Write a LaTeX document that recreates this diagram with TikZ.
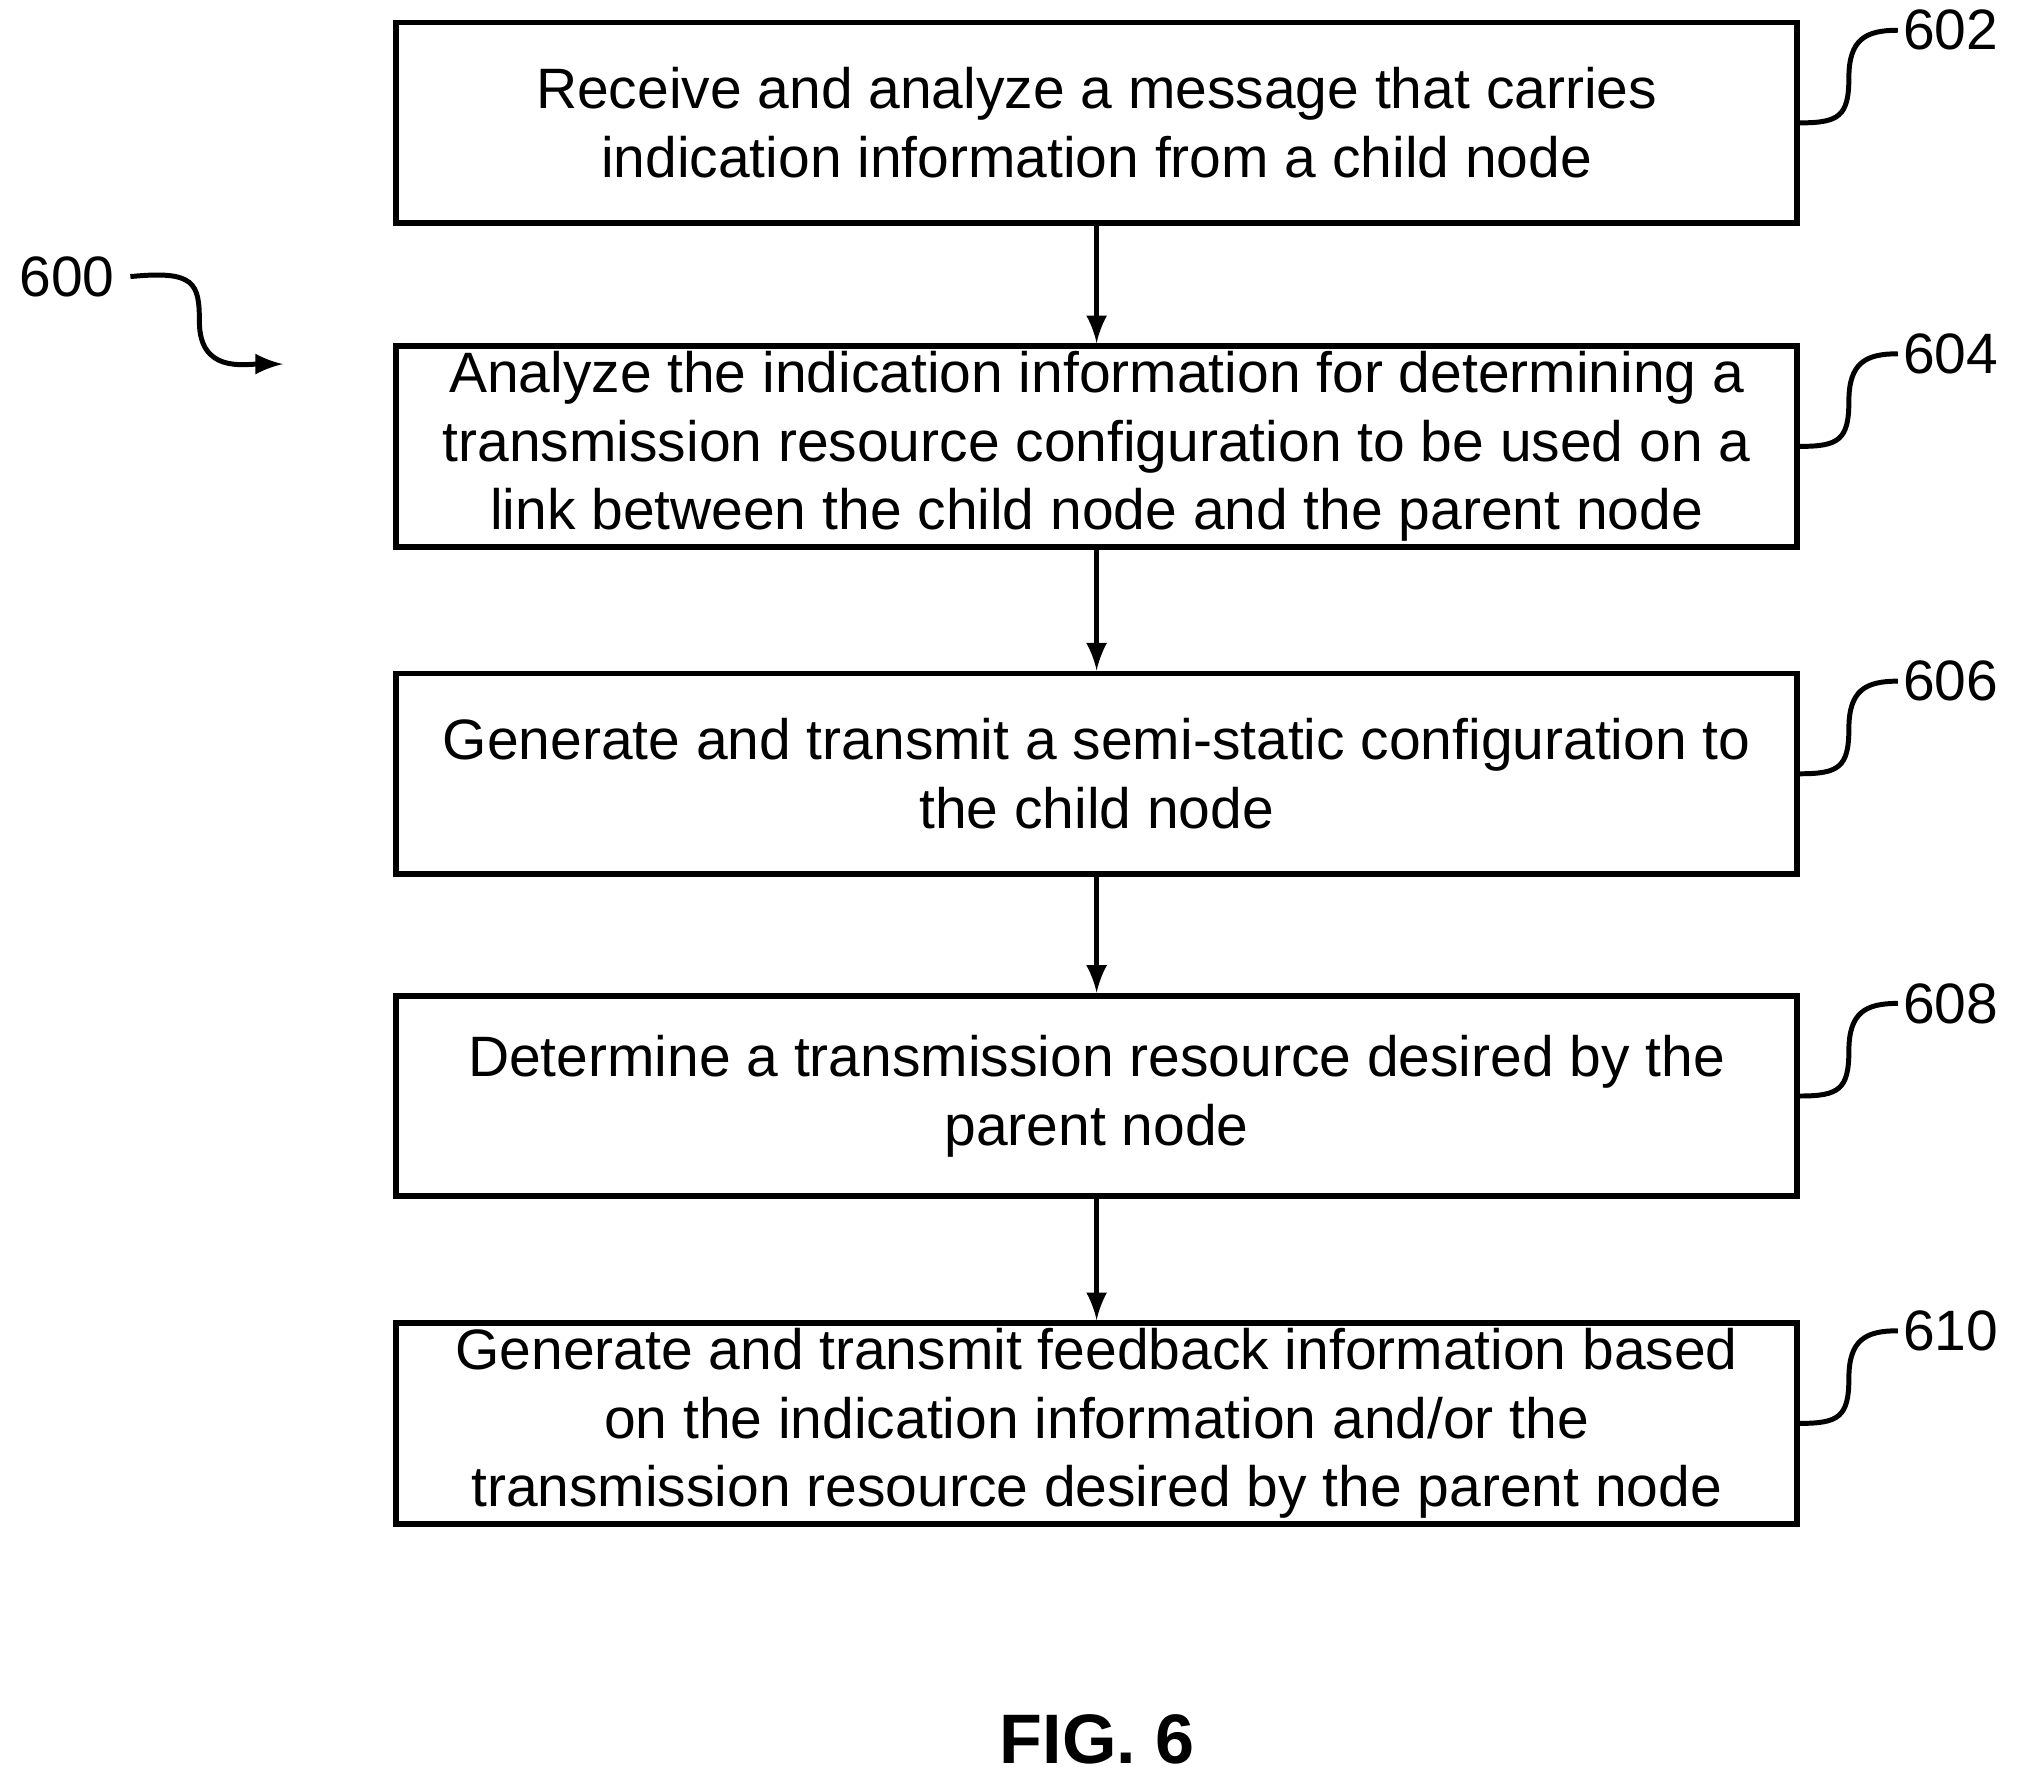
\documentclass[tikz,border=0pt]{standalone}
\usepackage{fontspec}
\setmainfont{Liberation Sans}
\usetikzlibrary{positioning}
\begin{document}
\begin{tikzpicture}
[stepbox/.style={draw, line width=1.3pt, minimum width=10.89cm, minimum height=1.56cm, align=center, inner sep=0pt, font=\fontsize{12.6}{15.2}\selectfont},
flow/.style={-latex, line width=1.1pt},
tag/.style={font=\fontsize{12.6}{15.2}\selectfont},
squig/.style={line width=1.1pt}]
\useasboundingbox (0,0) rectangle (15.68,-13.87);
\node[stepbox] (s602) at (8.525,-0.955) {Receive and analyze a message that carries\\indication information from a child node};
\node[stepbox] (s604) at (8.525,-3.47) {Analyze the indication information for determining a\\transmission resource configuration to be used on a\\link between the child node and the parent node};
\node[stepbox] (s606) at (8.525,-6.015) {Generate and transmit a semi-static configuration to\\the child node};
\node[stepbox] (s608) at (8.525,-8.52) {Determine a transmission resource desired by the\\parent node};
\node[stepbox] (s610) at (8.525,-11.065) {Generate and transmit feedback information based\\on the indication information and/or the\\transmission resource desired by the parent node};
\draw[flow] (s602) -- (s604);
\draw[flow] (s604) -- (s606);
\draw[flow] (s606) -- (s608);
\draw[flow] (s608) -- (s610);
% reference numerals
\foreach \n in {602,604,606,608,610} {
  \node[tag, anchor=west, inner sep=1pt] (t\n) at ([shift={(0.76,0.72)}]s\n.east) {\n};
  \draw[squig] (s\n.east) .. controls +(0.3,0) and +(0,-0.3) .. ([shift={(0.38,0.35)}]s\n.east)
    .. controls +(0,0.3) and +(-0.25,0) .. (t\n.west);
}
\node[tag] (t600) at (0.52,-2.15) {600};
\coordinate (a600) at (2.2,-2.83);
\draw[squig, -latex] (t600.east) .. controls +(0.5,0.05) and +(0,0.3) .. (1.55,-2.5)
  .. controls +(0,-0.4) and +(-0.3,0) .. (a600);
\node[font=\fontsize{15.5}{18}\selectfont\bfseries] (fig) at (8.53,-13.52) {FIG. 6};
\end{tikzpicture}
\end{document}
